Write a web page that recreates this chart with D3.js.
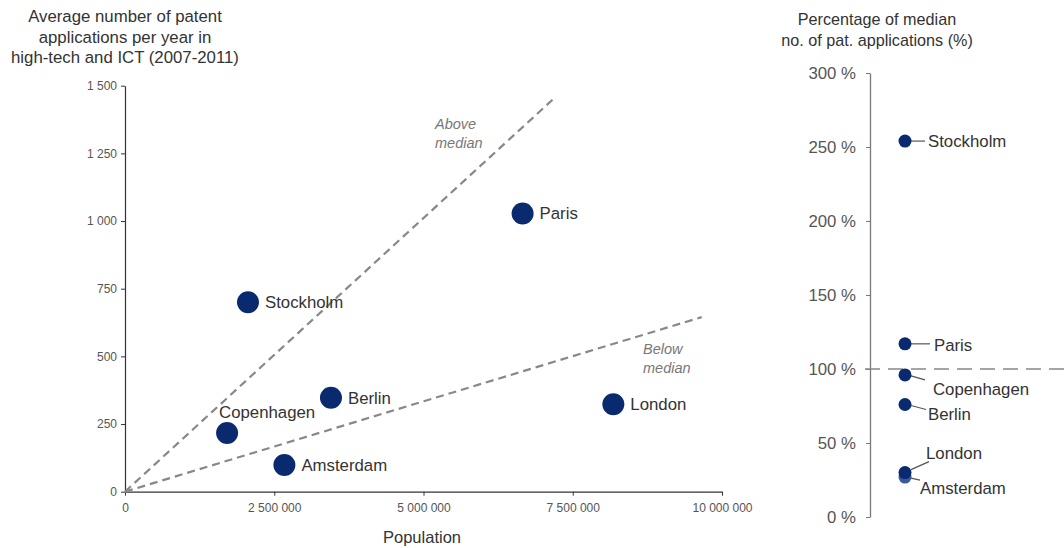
<!DOCTYPE html>
<html><head><meta charset="utf-8">
<script src="https://cdn.jsdelivr.net/npm/d3@7"></script>
<style>
html,body{margin:0;padding:0;background:#fff;}
svg{display:block;font-family:"Liberation Sans",Arial,sans-serif;}
</style></head>
<body><svg id="c" width="1064" height="548"></svg>
<script>
// ---- Data ----
const cities = ["Stockholm","Paris","Berlin","Copenhagen","Amsterdam","London"];
const population = [2060000, 6660000, 3450000, 1710000, 2670000, 8180000];
const patents = [700, 1028, 347, 217, 99, 323];
const pctCities = ["Stockholm","Paris","Copenhagen","Berlin","Amsterdam","London"];
const pctOfMedian = [254, 117, 96, 76, 27, 30];
const guideNames = ["Above median","Below median"];
const guideEndPop = [7220000, 9660000];
const guideEndPat = [1460, 645];
const xTicks = [0, 2500000, 5000000, 7500000, 10000000];
const yTicks = [0, 250, 500, 750, 1000, 1250, 1500];
const pctTicks = [0, 50, 100, 150, 200, 250, 300];
const medianPct = 100;

// ---- Layout ----
const svg = d3.select("#c");
const navy = "#0a2a70";
const loc = d3.formatLocale({decimal:",", thousands:" ", grouping:[3], currency:["",""]});
const fmt = loc.format(",d");

const x = d3.scaleLinear().domain([0, 10000000]).range([125, 722]);
const y = d3.scaleLinear().domain([0, 1500]).range([491.7, 85.7]);

// titles
const t1 = svg.append("text").attr("x",125).attr("text-anchor","middle")
  .attr("font-size",16.8).attr("fill","#333");
["Average number of patent","applications per year in","high-tech and ICT (2007-2011)"].forEach((s,i)=>{
  t1.append("tspan").attr("x",125).attr("y",22+i*20.5).text(s);
});
svg.append("text").attr("x",422).attr("y",543).attr("text-anchor","middle")
  .attr("font-size",16.5).attr("fill","#333").text("Population");

// axes
const axFont = '"Liberation Sans Narrow","Liberation Sans",Arial,sans-serif';
const gx = svg.append("g").attr("transform","translate(0,491.7)")
  .call(d3.axisBottom(x).tickValues(xTicks).tickFormat(fmt).tickSize(4).tickSizeOuter(0).tickPadding(8));
const gy = svg.append("g").attr("transform","translate(125,0)")
  .call(d3.axisLeft(y).tickValues(yTicks).tickFormat(fmt).tickSize(4).tickSizeOuter(0).tickPadding(4));
[gx,gy].forEach(g=>{
  g.select(".domain").attr("stroke","#333").attr("stroke-width",1.2);
  g.selectAll(".tick line").attr("stroke","#333");
  g.selectAll(".tick text").attr("fill","#555").attr("font-size",12)
   .attr("font-family",axFont);
});

// guide lines
guideNames.forEach((n,i)=>{
  svg.append("line").attr("x1",x(0)).attr("y1",y(0))
    .attr("x2",x(guideEndPop[i])).attr("y2",y(guideEndPat[i]))
    .attr("stroke","#888").attr("stroke-width",2.2).attr("stroke-dasharray","8,5");
});
const glab = [{x:435,y:129},{x:643,y:354}];
guideNames.forEach((n,i)=>{
  const parts = n.split(" ");
  const t = svg.append("text").attr("font-size",14.5).attr("font-style","italic").attr("fill","#777");
  parts.forEach((p,j)=>t.append("tspan").attr("x",glab[i].x).attr("y",glab[i].y+j*18.5).text(p));
});

// points
const pts = cities.map((c,i)=>({c, px:population[i], py:patents[i]}));
svg.append("g").selectAll("circle").data(pts).join("circle")
  .attr("cx",d=>x(d.px)).attr("cy",d=>y(d.py)).attr("r",11).attr("fill",navy);
svg.append("g").selectAll("text").data(pts).join("text")
  .attr("x",d=> d.c==="Copenhagen" ? x(d.px)-8 : x(d.px)+17)
  .attr("y",d=> d.c==="Copenhagen" ? y(d.py)-21 : y(d.py))
  .attr("dy","0.35em").attr("font-size",16.8).attr("fill","#333").text(d=>d.c);

// ---- Right chart ----
const y2 = d3.scaleLinear().domain([0,300]).range([517,73]);
const ax2 = 870, dotX = 905;
const rt = svg.append("text").attr("text-anchor","middle").attr("font-size",16.2).attr("fill","#333");
["Percentage of median","no. of pat. applications (%)"].forEach((s,i)=>{
  rt.append("tspan").attr("x",877).attr("y",25+i*21).text(s);
});
const g2 = svg.append("g").attr("transform",`translate(${ax2},0)`)
  .call(d3.axisLeft(y2).tickValues(pctTicks).tickFormat(d=>d+" %").tickSize(4).tickSizeOuter(0).tickPadding(10));
g2.select(".domain").attr("stroke","#777").attr("stroke-width",1.3);
g2.selectAll(".tick line").attr("stroke","#777");
g2.selectAll(".tick text").attr("fill","#555").attr("font-size",16.8);

svg.append("line").attr("x1",865).attr("x2",1064).attr("y1",y2(medianPct)).attr("y2",y2(medianPct))
  .attr("stroke","#888").attr("stroke-width",1.6).attr("stroke-dasharray","15,8");

const lay = {
  "Stockholm": {l1:[6,0], l2:[20,0], t:[23,0]},
  "Paris":     {l1:[6,0], l2:[25,0], t:[29,1]},
  "Copenhagen":{l1:[6,1], l2:[20,5], t:[28,14]},
  "Berlin":    {l1:[6,1], l2:[21,5], t:[23,10]},
  "Amsterdam": {l1:[6,1], l2:[15,3], t:[15,11]},
  "London":    {l1:[6,-3], l2:[24,-11], t:[21,-19]}
};
const p2 = pctCities.map((c,i)=>({c, v:pctOfMedian[i]}));
svg.append("g").selectAll("line").data(p2).join("line")
  .attr("x1",d=>dotX+lay[d.c].l1[0]).attr("y1",d=>y2(d.v)+lay[d.c].l1[1])
  .attr("x2",d=>dotX+lay[d.c].l2[0]).attr("y2",d=>y2(d.v)+lay[d.c].l2[1])
  .attr("stroke","#555").attr("stroke-width",1.2);
svg.append("g").selectAll("circle").data(p2).join("circle")
  .attr("cx",dotX).attr("cy",d=>y2(d.v)).attr("r",6.5)
  .attr("fill",d=>d.c==="Amsterdam" ? "#3b5a98" : navy);
svg.append("g").selectAll("text").data(p2).join("text")
  .attr("x",d=>dotX+lay[d.c].t[0]).attr("y",d=>y2(d.v)+lay[d.c].t[1])
  .attr("dy","0.35em").attr("font-size",16.8).attr("fill","#333").text(d=>d.c);
</script></body></html>
